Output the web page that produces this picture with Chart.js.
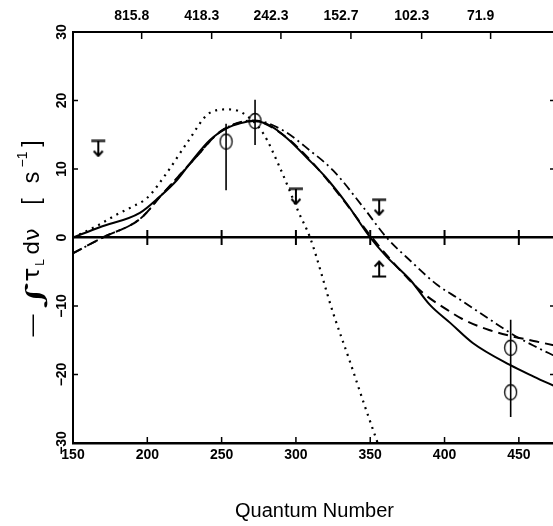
<!DOCTYPE html>
<html><head><meta charset="utf-8">
<script src="https://cdn.jsdelivr.net/npm/chart.js@4/dist/chart.umd.min.js"></script>
<style>
html,body{margin:0;padding:0;overflow:hidden;background:#fff;}
#wrap{width:553px;height:526px;position:relative;overflow:hidden;}
canvas{display:block;}
</style></head><body>
<div id="wrap"><canvas id="c" width="556" height="526"></canvas></div>
<script>
// ---- data ----
const xTicks = [150, 200, 250, 300, 350, 400, 450];
const yTicks = [-30, -20, -10, 0, 10, 20, 30];
const topTickPositions = [196.2, 243.3, 289.9, 337.0, 384.6, 431.0];
const topTickLabels = ['815.8', '418.3', '242.3', '152.7', '102.3', '71.9'];

const solidX = [150,168,195,208,220,229,242,254,263,271,282,294,308,320,334,350,361,377,390,404,419,444,460,475];
const solidY = [0,1.5,3.6,5.9,8.4,10.9,14.2,16.0,16.7,17.0,16.4,14.5,11.5,8.8,5.0,0,-2.8,-6.2,-9.8,-12.5,-15.4,-18.6,-20.3,-21.8];

const dashedX = [150,170,195,210,231,250,272,290,310,330,350,362,375,386,400,412,430,445,460,475];
const dashedY = [-2.3,0,2.7,6.3,11.3,15.6,17.0,15.2,11.2,6.0,0.3,-2.8,-5.9,-8.2,-10.3,-11.9,-13.5,-14.4,-15.1,-15.8];

const dashDotX = [150,170,195,210,231,250,272,290,310,325,345,361,378,395,410,430,447,460,475];
const dashDotY = [-2.3,0,2.7,6.3,11.3,15.6,17.1,15.8,12.6,9.8,4.5,0,-3.6,-6.9,-9.0,-11.9,-14.3,-15.8,-17.4];

const dottedX = [150,167,179,190,200,213,227,242,254,264,278,289,302,309.5,325,336,346.5,355];
const dottedY = [0,1.8,3.3,4.5,5.8,9.4,13.9,18.2,18.7,18.2,15.2,10.3,3.6,0,-11.0,-17.9,-24.7,-30];

const circX = [253, 272.5, 444.5, 444.5];
const circY = [14.0, 17.0, -16.1, -22.6];
const errX = [253, 272.5, 444.5];
const errLo = [6.9, 13.5, -26.2];
const errHi = [16.6, 20.1, -12.0];

const upperX = [167, 300, 356];
const upperY = [13.0, 6.0, 4.4];
const lowerX = [356];
const lowerY = [-4.6];

// ---- helpers ----
const pts = (xs, ys) => xs.map((x, i) => ({x, y: ys[i]}));
function limitSymbol(isLower) {
  const c = document.createElement('canvas');
  c.width = 16; c.height = 18;
  const g = c.getContext('2d');
  g.strokeStyle = '#000'; g.lineWidth = 2;
  if (isLower) { g.translate(0, 18); g.scale(1, -1); }
  g.beginPath();
  g.moveTo(1, 1.5); g.lineTo(15, 1.5);
  g.moveTo(8, 1.5); g.lineTo(8, 16.5);
  g.moveTo(3.5, 11.5); g.lineTo(8, 16.5); g.lineTo(12.5, 11.5);
  g.stroke();
  return c;
}
function ellipseSymbol() {
  const c = document.createElement('canvas');
  c.width = 15; c.height = 18;
  const g = c.getContext('2d');
  g.strokeStyle = '#000'; g.lineWidth = 1.3;
  g.beginPath(); g.ellipse(7.5, 9, 6, 7.5, 0, 0, Math.PI * 2); g.stroke();
  return c;
}
const errData = [];
errX.forEach((x, i) => { errData.push({x, y: errLo[i]}, {x, y: errHi[i]}, {x, y: null}); });

const lineDs = (data, dash, width) => ({
  type: 'line', data, borderColor: '#000', borderWidth: width, borderDash: dash,
  pointRadius: 0, fill: false, cubicInterpolationMode: 'monotone'
});

const TICK_FONT = {family: 'Liberation Sans', size: 14, weight: 'bold'};

const inwardTicks = {
  id: 'inwardTicks',
  afterDraw(chart) {
    const {ctx, chartArea: a, scales} = chart;
    ctx.save();
    ctx.strokeStyle = '#000'; ctx.lineWidth = 1.5;
    const seg = (x1, y1, x2, y2) => { ctx.beginPath(); ctx.moveTo(x1, y1); ctx.lineTo(x2, y2); ctx.stroke(); };
    yTicks.forEach(v => {
      if (v === yTicks[0] || v === yTicks[yTicks.length - 1] || v === 0) return;
      const p = scales.y.getPixelForValue(v);
      seg(a.left, p, a.left + 5, p);
      seg(a.right, p, a.right - 6, p);
    });
    xTicks.forEach(v => {
      if (v === xTicks[0]) return;
      const p = scales.x.getPixelForValue(v);
      seg(p, a.bottom, p, a.bottom - 6);
    });
    topTickPositions.forEach(v => {
      const p = scales.x2.getPixelForValue(v);
      seg(p, a.top, p, a.top + 7);
    });
    ctx.restore();
  }
};

const yTitle = {
  id: 'yTitle',
  afterDraw(chart) {
    const {ctx, chartArea: a} = chart;
    const cy = (a.top + a.bottom) / 2;
    ctx.save();
    ctx.translate(39, cy);
    ctx.rotate(-Math.PI / 2);
    ctx.fillStyle = '#000';
    ctx.textBaseline = 'alphabetic';
    ctx.textAlign = 'center';
    // s: centre position along the text (0 = bottom end, 200 = top end)
    const parts = [
      {t: '\u2014', f: '22px "Liberation Sans"', s: 12, dy: 0},
      {t: '\u222B', f: 'italic 30px "DejaVu Serif"', s: 42, dy: 4, sx: 1.7, sy: 0.8},
      {t: '\u03C4', f: '23px "DejaVu Sans"', s: 63, dy: 0},
      {t: 'L', f: '12px "Liberation Sans"', s: 75, dy: 5},
      {t: 'd\u03BD', f: '22px "DejaVu Sans"', s: 96, dy: 0},
      {t: '[', f: '23px "Liberation Sans"', s: 136, dy: 0},
      {t: 's', f: '23px "Liberation Sans"', s: 160, dy: 0},
      {t: '\u22121', f: '14px "Liberation Sans"', s: 178, dy: -12},
      {t: ']', f: '23px "Liberation Sans"', s: 194, dy: 0}
    ];
    parts.forEach(p => {
      ctx.font = p.f;
      if (p.sx) {
        ctx.save();
        ctx.translate(p.s - 100, p.dy);
        ctx.scale(p.sx, p.sy);
        ctx.fillText(p.t, 0, 0);
        ctx.restore();
      } else {
        ctx.fillText(p.t, p.s - 100, p.dy);
      }
    });
    ctx.restore();
  }
};

new Chart(document.getElementById('c'), {
  type: 'line',
  data: {
    datasets: [
      lineDs(pts(solidX, solidY), [], 2),
      lineDs(pts(dashedX, dashedY), [10, 6], 2),
      lineDs(pts(dashDotX, dashDotY), [9, 4, 2, 4], 1.8),
      lineDs(pts(dottedX, dottedY), [2, 5], 2.2),
      {type: 'line', data: errData, borderColor: '#000', borderWidth: 1.6, pointRadius: 0, spanGaps: false},
      {type: 'scatter', data: pts(circX, circY), pointStyle: ellipseSymbol(), pointRadius: 8},
      {type: 'scatter', data: pts(upperX, upperY), pointStyle: limitSymbol(false), pointRadius: 8},
      {type: 'scatter', data: pts(lowerX, lowerY), pointStyle: limitSymbol(true), pointRadius: 8},
      {type: 'scatter', data: xTicks.slice(1).map(x => ({x, y: 0})), pointStyle: 'line', rotation: 90,
       pointRadius: 7.5, borderColor: '#000', borderWidth: 2}
    ]
  },
  options: {
    responsive: false,
    maintainAspectRatio: false,
    animation: false,
    events: [],
    layout: {padding: 0, autoPadding: false},
    plugins: {legend: {display: false}, tooltip: {enabled: false}},
    scales: {
      x: {
        type: 'linear', position: 'bottom', min: 150, max: 475,
        afterBuildTicks: s => { s.ticks = xTicks.map(v => ({value: v})); },
        afterFit: s => { s.height = 83; s.paddingLeft = 0; s.paddingRight = 0; },
        grid: {display: false, drawTicks: false},
        border: {display: true, color: '#000', width: 2.5},
        ticks: {color: '#000', font: TICK_FONT, padding: 4, maxRotation: 0, autoSkip: false},
        title: {display: true, text: 'Quantum Number', color: '#000',
                font: {family: 'Liberation Sans', size: 20}, padding: {top: 0, bottom: 3}}
      },
      x2: {
        type: 'linear', position: 'top', min: 150, max: 475,
        afterBuildTicks: s => { s.ticks = topTickPositions.map(v => ({value: v})); },
        afterFit: s => { s.height = 32; s.paddingLeft = 0; s.paddingRight = 0; },
        grid: {display: false, drawTicks: false},
        border: {display: true, color: '#000', width: 2},
        ticks: {color: '#000', font: TICK_FONT, padding: 7, labelOffset: -10, maxRotation: 0, autoSkip: false,
                callback: (v, i) => topTickLabels[i]}
      },
      y: {
        type: 'linear', position: 'left', min: -30, max: 30,
        afterBuildTicks: s => { s.ticks = yTicks.map(v => ({value: v})); },
        afterFit: s => { s.width = 73; s.paddingTop = 0; s.paddingBottom = 0; },
        grid: {display: true, drawTicks: false,
               color: c => (c.tick && c.tick.value === 0) ? '#000' : 'rgba(0,0,0,0)',
               lineWidth: c => (c.tick && c.tick.value === 0) ? 2.5 : 0},
        border: {display: true, color: '#000', width: 2},
        ticks: {color: '#000', font: TICK_FONT, padding: -1, minRotation: 90, maxRotation: 90,
                crossAlign: 'center', autoSkip: false,
                callback: v => String(v).replace('-', '\u2212')}
      }
    }
  },
  plugins: [inwardTicks, yTitle]
});
</script>
</body></html>
